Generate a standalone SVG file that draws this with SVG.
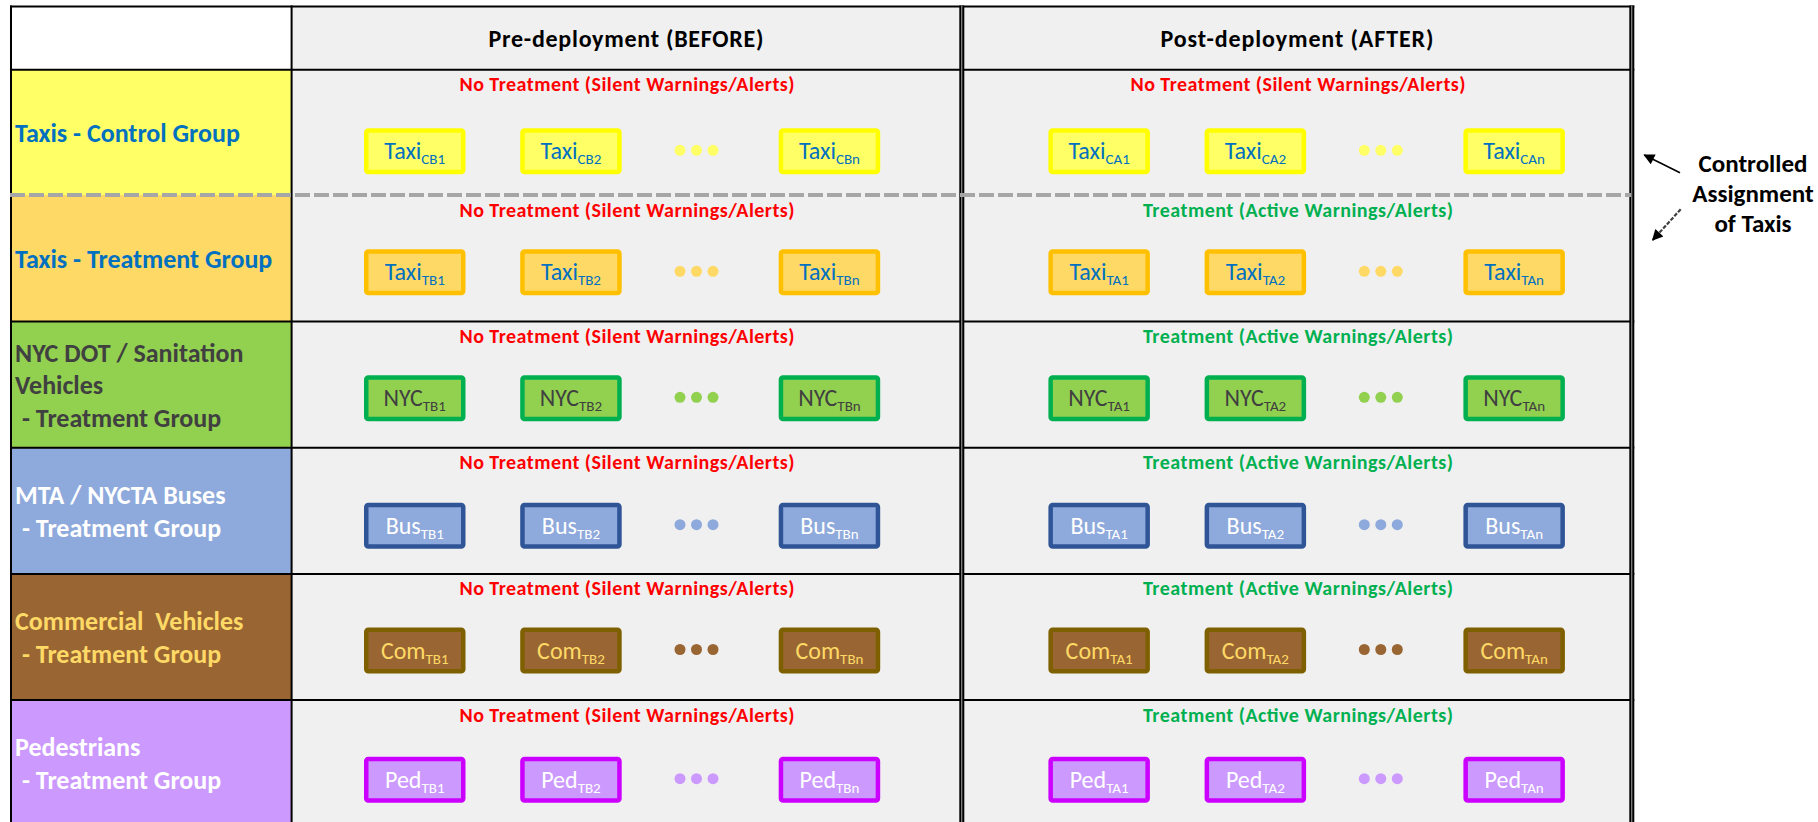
<svg xmlns="http://www.w3.org/2000/svg" width="1818" height="822" viewBox="0 0 1818 822">
  <style>
    text { font-family: Carlito, Lato, "Open Sans", sans-serif; }
    .hdr { font-size: 24px; font-weight: bold; fill: #000; text-anchor: middle; }
    .lbl { font-size: 26px; font-weight: bold; }
    .st { font-size: 20px; font-weight: bold; text-anchor: middle; }
    .no { fill: #FF0000; }
    .yes { fill: #00B050; }
    .bt { font-size: 24px; text-anchor: middle; }
    .sub { font-size: 15px; }
    .grid { stroke: #000; stroke-width: 2; fill: none; }
    .b-tc use { fill: #FFFF66; stroke: #FFFF00; stroke-width: 4.5; }
    .b-tt use { fill: #FFD966; stroke: #FFC000; stroke-width: 4.5; }
    .b-ny use { fill: #92D050; stroke: #00B050; stroke-width: 4.5; }
    .b-bu use { fill: #8EA9DB; stroke: #2F5597; stroke-width: 4.5; }
    .b-co use { fill: #996633; stroke: #7F6000; stroke-width: 4.5; }
    .b-pe use { fill: #CC99FF; stroke: #CC00FF; stroke-width: 4.5; }
    .b-tc text, .b-tt text { fill: #0070C0; }
    .b-ny text { fill: #404040; }
    .b-bu text, .b-pe text { fill: #FFFFFF; }
    .b-co text { fill: #FFD966; }
    .note { font-size: 25px; font-weight: bold; fill: #000; text-anchor: middle; }
  </style>
  <defs>
    <marker id="head" viewBox="0 0 10 10" refX="9" refY="5" markerWidth="13" markerHeight="11" markerUnits="userSpaceOnUse" orient="auto">
      <path d="M0,0 L10,5 L0,10 z" fill="#000"/>
    </marker>
    <!-- one vehicle box: rect frame, placed by translate -->
    <rect id="frame" x="2.25" y="2.25" width="97" height="41.5" rx="2"/>
  </defs>

  <rect width="1818" height="822" fill="#FFFFFF"/>

  <!-- cell backgrounds -->
  <g id="cells">
    <rect x="291.6" y="6.5" width="1340" height="815.5" fill="#F0F0F0"/>
    <rect x="11" y="6.5" width="280.6" height="63.2" fill="#FFFFFF"/>
  </g>

  <!-- row label cells -->
  <g id="row-taxi-control">
    <rect x="11" y="69.7" width="280.6" height="125.3" fill="#FFFF66"/>
    <text class="lbl" x="15" y="141.7" fill="#0070C0">Taxis - Control Group</text>
  </g>
  <g id="row-taxi-treatment">
    <rect x="11" y="195" width="280.6" height="126.5" fill="#FFD966"/>
    <text class="lbl" x="15" y="268.3" fill="#0070C0">Taxis - Treatment Group</text>
  </g>
  <g id="row-nyc">
    <rect x="11" y="321.5" width="280.6" height="126.2" fill="#92D050"/>
    <text class="lbl" fill="#404040"><tspan x="15" y="361.5">NYC DOT / Sanitation</tspan><tspan x="15" y="394">Vehicles</tspan><tspan x="22" y="427">- Treatment Group</tspan></text>
  </g>
  <g id="row-bus">
    <rect x="11" y="447.7" width="280.6" height="126.2" fill="#8EA9DB"/>
    <text class="lbl" fill="#FFFFFF"><tspan x="15" y="504">MTA / NYCTA Buses</tspan><tspan x="22" y="537.3">- Treatment Group</tspan></text>
  </g>
  <g id="row-commercial">
    <rect x="11" y="573.9" width="280.6" height="126.1" fill="#996633"/>
    <text class="lbl" fill="#FFD966" xml:space="preserve"><tspan x="15" y="630">Commercial  Vehicles</tspan><tspan x="22" y="663.3">- Treatment Group</tspan></text>
  </g>
  <g id="row-pedestrians">
    <rect x="11" y="700" width="280.6" height="122" fill="#CC99FF"/>
    <text class="lbl" fill="#FFFFFF"><tspan x="15" y="756">Pedestrians</tspan><tspan x="22" y="789.3">- Treatment Group</tspan></text>
  </g>

  <!-- table rules -->
  <g id="grid">
    <line class="grid" x1="10" y1="6.5" x2="1634.3" y2="6.5"/>
    <line class="grid" x1="10" y1="69.7" x2="1634.3" y2="69.7"/>
    <line class="grid" x1="10" y1="321.5" x2="1634.3" y2="321.5"/>
    <line class="grid" x1="10" y1="447.7" x2="1634.3" y2="447.7"/>
    <line class="grid" x1="10" y1="573.9" x2="1634.3" y2="573.9"/>
    <line class="grid" x1="10" y1="700" x2="1634.3" y2="700"/>
    <line class="grid" x1="11" y1="5.5" x2="11" y2="822"/>
    <line class="grid" x1="291.6" y1="5.5" x2="291.6" y2="822" stroke-width="2.3"/>
    <rect x="959.3" y="5.5" width="5" height="816.5" fill="#000"/>
    <line x1="961.7" y1="5.5" x2="961.7" y2="822" stroke="#808080" stroke-width="1.3"/>
    <rect x="1629.3" y="5.5" width="5" height="816.5" fill="#000"/>
    <line x1="1631.7" y1="5.5" x2="1631.7" y2="822" stroke="#808080" stroke-width="1.3"/>
    <line x1="10" y1="195" x2="1631" y2="195" stroke="#A6A6A6" stroke-width="4" stroke-dasharray="15 4"/>
  </g>

  <!-- column headers -->
  <g id="header-before"><text class="hdr" x="626" y="46.7" textLength="275" lengthAdjust="spacing">Pre-deployment (BEFORE)</text></g>
  <g id="header-after"><text class="hdr" x="1297" y="46.7" textLength="273" lengthAdjust="spacing">Post-deployment (AFTER)</text></g>

  <!-- treatment status lines -->
  <g id="status">
    <text class="st no" x="627" y="91.2" textLength="335" lengthAdjust="spacing">No Treatment (Silent Warnings/Alerts)</text>
    <text class="st no" x="1298" y="91.2" textLength="335" lengthAdjust="spacing">No Treatment (Silent Warnings/Alerts)</text>
    <text class="st no" x="627" y="216.8" textLength="335" lengthAdjust="spacing">No Treatment (Silent Warnings/Alerts)</text>
    <text class="st yes" x="1298" y="216.8" textLength="310" lengthAdjust="spacing">Treatment (Active Warnings/Alerts)</text>
    <text class="st no" x="627" y="343" textLength="335" lengthAdjust="spacing">No Treatment (Silent Warnings/Alerts)</text>
    <text class="st yes" x="1298" y="343" textLength="310" lengthAdjust="spacing">Treatment (Active Warnings/Alerts)</text>
    <text class="st no" x="627" y="469.2" textLength="335" lengthAdjust="spacing">No Treatment (Silent Warnings/Alerts)</text>
    <text class="st yes" x="1298" y="469.2" textLength="310" lengthAdjust="spacing">Treatment (Active Warnings/Alerts)</text>
    <text class="st no" x="627" y="595.4" textLength="335" lengthAdjust="spacing">No Treatment (Silent Warnings/Alerts)</text>
    <text class="st yes" x="1298" y="595.4" textLength="310" lengthAdjust="spacing">Treatment (Active Warnings/Alerts)</text>
    <text class="st no" x="627" y="721.5" textLength="335" lengthAdjust="spacing">No Treatment (Silent Warnings/Alerts)</text>
    <text class="st yes" x="1298" y="721.5" textLength="310" lengthAdjust="spacing">Treatment (Active Warnings/Alerts)</text>
  </g>

  <!-- Taxis control group -->
  <g id="taxi-cb1" class="b-tc" transform="translate(364,128.3)"><use href="#frame"/><text class="bt" x="50.75" y="31">Taxi<tspan class="sub" dy="5">CB1</tspan></text></g>
  <g id="taxi-cb2" class="b-tc" transform="translate(520.2,128.3)"><use href="#frame"/><text class="bt" x="50.75" y="31">Taxi<tspan class="sub" dy="5">CB2</tspan></text></g>
  <g id="taxi-cbn" class="b-tc" transform="translate(778.7,128.3)"><use href="#frame"/><text class="bt" x="50.75" y="31">Taxi<tspan class="sub" dy="5">CBn</tspan></text></g>
  <g id="taxi-ca1" class="b-tc" transform="translate(1048.4,128.3)"><use href="#frame"/><text class="bt" x="50.75" y="31">Taxi<tspan class="sub" dy="5">CA1</tspan></text></g>
  <g id="taxi-ca2" class="b-tc" transform="translate(1204.6,128.3)"><use href="#frame"/><text class="bt" x="50.75" y="31">Taxi<tspan class="sub" dy="5">CA2</tspan></text></g>
  <g id="taxi-can" class="b-tc" transform="translate(1463.4,128.3)"><use href="#frame"/><text class="bt" x="50.75" y="31">Taxi<tspan class="sub" dy="5">CAn</tspan></text></g>

  <!-- Taxis treatment group -->
  <g id="taxi-tb1" class="b-tt" transform="translate(364,249.3)"><use href="#frame"/><text class="bt" x="50.75" y="31">Taxi<tspan class="sub" dy="5">TB1</tspan></text></g>
  <g id="taxi-tb2" class="b-tt" transform="translate(520.2,249.3)"><use href="#frame"/><text class="bt" x="50.75" y="31">Taxi<tspan class="sub" dy="5">TB2</tspan></text></g>
  <g id="taxi-tbn" class="b-tt" transform="translate(778.7,249.3)"><use href="#frame"/><text class="bt" x="50.75" y="31">Taxi<tspan class="sub" dy="5">TBn</tspan></text></g>
  <g id="taxi-ta1" class="b-tt" transform="translate(1048.4,249.3)"><use href="#frame"/><text class="bt" x="50.75" y="31">Taxi<tspan class="sub" dy="5">TA1</tspan></text></g>
  <g id="taxi-ta2" class="b-tt" transform="translate(1204.6,249.3)"><use href="#frame"/><text class="bt" x="50.75" y="31">Taxi<tspan class="sub" dy="5">TA2</tspan></text></g>
  <g id="taxi-tan" class="b-tt" transform="translate(1463.4,249.3)"><use href="#frame"/><text class="bt" x="50.75" y="31">Taxi<tspan class="sub" dy="5">TAn</tspan></text></g>

  <!-- NYC DOT / Sanitation -->
  <g id="nyc-tb1" class="b-ny" transform="translate(364,375.3)"><use href="#frame"/><text class="bt" x="50.75" y="31">NYC<tspan class="sub" dy="5">TB1</tspan></text></g>
  <g id="nyc-tb2" class="b-ny" transform="translate(520.2,375.3)"><use href="#frame"/><text class="bt" x="50.75" y="31">NYC<tspan class="sub" dy="5">TB2</tspan></text></g>
  <g id="nyc-tbn" class="b-ny" transform="translate(778.7,375.3)"><use href="#frame"/><text class="bt" x="50.75" y="31">NYC<tspan class="sub" dy="5">TBn</tspan></text></g>
  <g id="nyc-ta1" class="b-ny" transform="translate(1048.4,375.3)"><use href="#frame"/><text class="bt" x="50.75" y="31">NYC<tspan class="sub" dy="5">TA1</tspan></text></g>
  <g id="nyc-ta2" class="b-ny" transform="translate(1204.6,375.3)"><use href="#frame"/><text class="bt" x="50.75" y="31">NYC<tspan class="sub" dy="5">TA2</tspan></text></g>
  <g id="nyc-tan" class="b-ny" transform="translate(1463.4,375.3)"><use href="#frame"/><text class="bt" x="50.75" y="31">NYC<tspan class="sub" dy="5">TAn</tspan></text></g>

  <!-- MTA / NYCTA buses -->
  <g id="bus-tb1" class="b-bu" transform="translate(364,502.7)"><use href="#frame"/><text class="bt" x="50.75" y="31">Bus<tspan class="sub" dy="5">TB1</tspan></text></g>
  <g id="bus-tb2" class="b-bu" transform="translate(520.2,502.7)"><use href="#frame"/><text class="bt" x="50.75" y="31">Bus<tspan class="sub" dy="5">TB2</tspan></text></g>
  <g id="bus-tbn" class="b-bu" transform="translate(778.7,502.7)"><use href="#frame"/><text class="bt" x="50.75" y="31">Bus<tspan class="sub" dy="5">TBn</tspan></text></g>
  <g id="bus-ta1" class="b-bu" transform="translate(1048.4,502.7)"><use href="#frame"/><text class="bt" x="50.75" y="31">Bus<tspan class="sub" dy="5">TA1</tspan></text></g>
  <g id="bus-ta2" class="b-bu" transform="translate(1204.6,502.7)"><use href="#frame"/><text class="bt" x="50.75" y="31">Bus<tspan class="sub" dy="5">TA2</tspan></text></g>
  <g id="bus-tan" class="b-bu" transform="translate(1463.4,502.7)"><use href="#frame"/><text class="bt" x="50.75" y="31">Bus<tspan class="sub" dy="5">TAn</tspan></text></g>

  <!-- Commercial vehicles -->
  <g id="com-tb1" class="b-co" transform="translate(364,627.5)"><use href="#frame"/><text class="bt" x="50.75" y="31">Com<tspan class="sub" dy="5">TB1</tspan></text></g>
  <g id="com-tb2" class="b-co" transform="translate(520.2,627.5)"><use href="#frame"/><text class="bt" x="50.75" y="31">Com<tspan class="sub" dy="5">TB2</tspan></text></g>
  <g id="com-tbn" class="b-co" transform="translate(778.7,627.5)"><use href="#frame"/><text class="bt" x="50.75" y="31">Com<tspan class="sub" dy="5">TBn</tspan></text></g>
  <g id="com-ta1" class="b-co" transform="translate(1048.4,627.5)"><use href="#frame"/><text class="bt" x="50.75" y="31">Com<tspan class="sub" dy="5">TA1</tspan></text></g>
  <g id="com-ta2" class="b-co" transform="translate(1204.6,627.5)"><use href="#frame"/><text class="bt" x="50.75" y="31">Com<tspan class="sub" dy="5">TA2</tspan></text></g>
  <g id="com-tan" class="b-co" transform="translate(1463.4,627.5)"><use href="#frame"/><text class="bt" x="50.75" y="31">Com<tspan class="sub" dy="5">TAn</tspan></text></g>

  <!-- Pedestrians -->
  <g id="ped-tb1" class="b-pe" transform="translate(364,756.7)"><use href="#frame"/><text class="bt" x="50.75" y="31">Ped<tspan class="sub" dy="5">TB1</tspan></text></g>
  <g id="ped-tb2" class="b-pe" transform="translate(520.2,756.7)"><use href="#frame"/><text class="bt" x="50.75" y="31">Ped<tspan class="sub" dy="5">TB2</tspan></text></g>
  <g id="ped-tbn" class="b-pe" transform="translate(778.7,756.7)"><use href="#frame"/><text class="bt" x="50.75" y="31">Ped<tspan class="sub" dy="5">TBn</tspan></text></g>
  <g id="ped-ta1" class="b-pe" transform="translate(1048.4,756.7)"><use href="#frame"/><text class="bt" x="50.75" y="31">Ped<tspan class="sub" dy="5">TA1</tspan></text></g>
  <g id="ped-ta2" class="b-pe" transform="translate(1204.6,756.7)"><use href="#frame"/><text class="bt" x="50.75" y="31">Ped<tspan class="sub" dy="5">TA2</tspan></text></g>
  <g id="ped-tan" class="b-pe" transform="translate(1463.4,756.7)"><use href="#frame"/><text class="bt" x="50.75" y="31">Ped<tspan class="sub" dy="5">TAn</tspan></text></g>

  <!-- ellipsis dots between the second and last box of each row -->
  <g id="ellipses">
    <g fill="#FFFF66">
      <circle cx="680" cy="150.3" r="5.5"/><circle cx="696.5" cy="150.3" r="5.5"/><circle cx="713" cy="150.3" r="5.5"/>
      <circle cx="1364.3" cy="150.3" r="5.5"/><circle cx="1380.8" cy="150.3" r="5.5"/><circle cx="1397.3" cy="150.3" r="5.5"/>
    </g>
    <g fill="#FFD966">
      <circle cx="680" cy="271.3" r="5.5"/><circle cx="696.5" cy="271.3" r="5.5"/><circle cx="713" cy="271.3" r="5.5"/>
      <circle cx="1364.3" cy="271.3" r="5.5"/><circle cx="1380.8" cy="271.3" r="5.5"/><circle cx="1397.3" cy="271.3" r="5.5"/>
    </g>
    <g fill="#92D050">
      <circle cx="680" cy="397.3" r="5.5"/><circle cx="696.5" cy="397.3" r="5.5"/><circle cx="713" cy="397.3" r="5.5"/>
      <circle cx="1364.3" cy="397.3" r="5.5"/><circle cx="1380.8" cy="397.3" r="5.5"/><circle cx="1397.3" cy="397.3" r="5.5"/>
    </g>
    <g fill="#8EA9DB">
      <circle cx="680" cy="524.7" r="5.5"/><circle cx="696.5" cy="524.7" r="5.5"/><circle cx="713" cy="524.7" r="5.5"/>
      <circle cx="1364.3" cy="524.7" r="5.5"/><circle cx="1380.8" cy="524.7" r="5.5"/><circle cx="1397.3" cy="524.7" r="5.5"/>
    </g>
    <g fill="#996633">
      <circle cx="680" cy="649.5" r="5.5"/><circle cx="696.5" cy="649.5" r="5.5"/><circle cx="713" cy="649.5" r="5.5"/>
      <circle cx="1364.3" cy="649.5" r="5.5"/><circle cx="1380.8" cy="649.5" r="5.5"/><circle cx="1397.3" cy="649.5" r="5.5"/>
    </g>
    <g fill="#CC99FF">
      <circle cx="680" cy="778.7" r="5.5"/><circle cx="696.5" cy="778.7" r="5.5"/><circle cx="713" cy="778.7" r="5.5"/>
      <circle cx="1364.3" cy="778.7" r="5.5"/><circle cx="1380.8" cy="778.7" r="5.5"/><circle cx="1397.3" cy="778.7" r="5.5"/>
    </g>
  </g>

  <!-- side note on taxi assignment -->
  <g id="assignment-note">
    <text class="note"><tspan x="1753" y="172.3">Controlled</tspan><tspan x="1753" y="201.7">Assignment</tspan><tspan x="1753" y="231.7">of Taxis</tspan></text>
  </g>

  <g id="connectors">
    <line x1="1680" y1="172.7" x2="1644.3" y2="155" stroke="#000" stroke-width="1.6" marker-end="url(#head)"/>
    <line x1="1680.7" y1="209.3" x2="1652.7" y2="240" stroke="#404040" stroke-width="2.2" stroke-dasharray="4 1.5" marker-end="url(#head)"/>
  </g>
</svg>
